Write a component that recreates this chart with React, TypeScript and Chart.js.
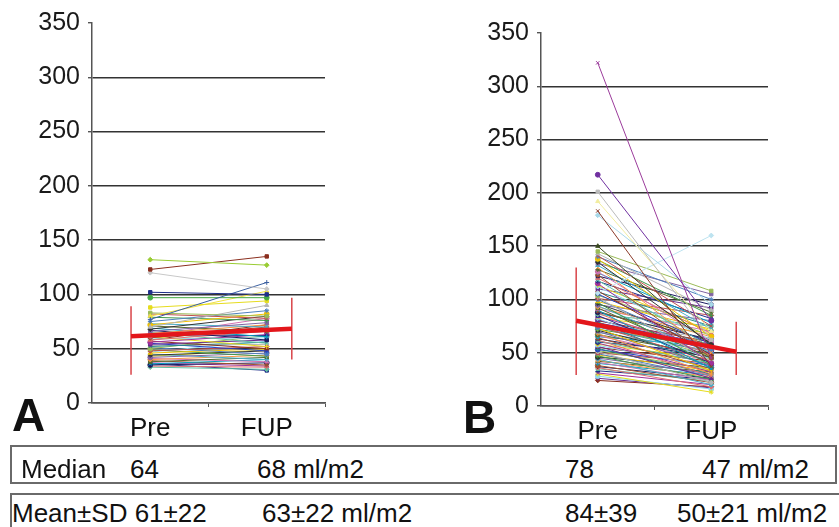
import React, { useEffect, useRef } from 'react';
import { Chart, registerables } from 'chart.js';

Chart.register(...registerables);

const categories = ['Pre', 'FUP'];
const yMax = 350;
const yStep = 50;

// Panel A: individual patients (Pre -> FUP)
const preA = [132, 123, 120, 102, 77, 97, 88, 80, 83, 70, 82, 75, 72, 79, 68, 66, 73, 64, 71, 62, 69, 60, 67, 58, 65, 63, 56, 61, 59, 54, 57, 52, 55, 50, 53, 48, 51, 46, 49, 44, 42, 45, 40, 38, 41, 36, 39, 35, 34, 33, 36, 37, 43, 47, 62, 58];
const fupA = [127, 135, 105, 100, 111, 97, 94, 103, 80, 90, 78, 85, 82, 76, 80, 74, 70, 72, 66, 78, 61, 70, 58, 66, 55, 62, 63, 52, 60, 58, 50, 56, 48, 62, 54, 52, 45, 50, 43, 48, 46, 40, 44, 42, 38, 40, 35, 37, 33, 31, 30, 34, 49, 57, 66, 72];
const specialColorsA = ['#99CC33', '#8B2F1F', '#C8C8C8', '#1F2F8A', '#3A5FA0', '#44AA44', '#E6DC1E', '#F0E040'];
const specialMarkersA = ['rectRot', 'rect', 'rectRot', 'rect', 'cross', 'circle', 'rect', 'triangle'];

// Panel B: individual patients (Pre -> FUP)
const preB = [322, 217, 201, 192, 183, 179, 150, 106, 145, 143, 141, 140, 138, 137, 135, 134, 132, 130, 128, 126, 125, 123, 122, 120, 118, 117, 115, 113, 112, 110, 108, 107, 105, 104, 102, 101, 100, 98, 97, 96, 95, 94, 93, 92, 91, 90, 89, 88, 87, 86, 85, 84, 83, 82, 81, 80, 79, 78, 77, 76, 75, 74, 73, 72, 71, 70, 69, 68, 67, 66, 65, 64, 63, 62, 61, 60, 59, 58, 57, 56, 55, 54, 53, 52, 51, 50, 49, 48, 47, 46, 45, 44, 43, 42, 41, 40, 38, 37, 36, 35, 33, 31, 30, 28, 26, 24];
const fupB = [45, 80, 62, 70, 37, 95, 56, 160, 108, 90, 75, 100, 65, 85, 58, 105, 72, 50, 88, 60, 78, 45, 95, 68, 55, 82, 40, 70, 62, 92, 48, 75, 58, 66, 42, 85, 53, 72, 38, 60, 80, 50, 65, 45, 70, 35, 57, 62, 48, 75, 40, 55, 68, 44, 52, 60, 36, 58, 47, 64, 42, 50, 33, 55, 45, 38, 52, 30, 48, 42, 56, 35, 46, 28, 40, 50, 32, 44, 36, 26, 42, 30, 38, 34, 22, 40, 28, 33, 25, 36, 30, 20, 27, 32, 24, 29, 22, 26, 18, 23, 25, 20, 13, 16, 17, 18];
const specialColorsB = ['#9B3B9B', '#7030A0', '#BBBBBB', '#F2EDA0', '#8B3A2A', '#A8D8E8', '#3A4A20', '#BDE3F0'];
const specialMarkersB = ['crossRot', 'circle', 'rect', 'triangle', 'crossRot', 'rectRot', 'triangle', 'rectRot'];

// Mean line and SD bars
const meanA = [61.5, 68.5];
const sdLowA = [26, 40];
const sdHighA = [89, 97];
const meanB = [80, 51];
const sdLowB = [29, 29];
const sdHighB = [130, 79];

const medianRow = ['Median', '64', '68 ml/m2', '78', '47 ml/m2'];
const meanRow = ['Mean±SD 61±22', '63±22 ml/m2', '84±39', '50±21 ml/m2'];

const palette = ['#1F2F8A', '#A0309A', '#E6DC1E', '#8FD8EC', '#6A2C91', '#8B2F1F', '#2A8A8A', '#2440C8', '#9BBB59', '#B5B5B5', '#C0504D', '#4F81BD', '#F2C200', '#3E9A4A', '#333333', '#8064A2', '#4BACC6', '#F79646', '#556B2F', '#D070B0', '#00A0C0', '#A0522D', '#1A1A60', '#E07070', '#60C0A0'];
const markers = ['rectRot', 'rect', 'triangle', 'crossRot', 'star', 'circle', 'cross'];

const FONT = 'Liberation Sans, Arial, Helvetica, sans-serif';

type PanelProps = {
  pre: number[]; fup: number[]; mean: number[]; lo: number[]; hi: number[];
  special: string[]; specialMarkers: string[];
  left: number; width: number; height: number;
  area: { left: number; right: number; top: number; bottom: number };
  barX: number[];
};

function Panel(p: PanelProps) {
  const ref = useRef<HTMLCanvasElement>(null);
  useEffect(() => {
    const canvas = ref.current!;
    const lines = p.pre.map((v, i) => {
      const col = i < p.special.length ? p.special[i] : palette[i % palette.length];
      const mk = i < p.specialMarkers.length ? p.specialMarkers[i] : markers[i % markers.length];
      return {
        data: [{ x: 1, y: v }, { x: 3, y: p.fup[i] }],
        borderColor: col,
        backgroundColor: col,
        borderWidth: 1,
        pointStyle: mk,
        pointRadius: 2.4,
        pointBorderWidth: 1,
        order: 3,
      };
    });
    const datasets: any[] = [
      { data: [{ x: p.barX[0], y: p.mean[0] }, { x: p.barX[1], y: p.mean[1] }], borderColor: '#E3161B', borderWidth: 4.5, pointRadius: 0, order: 0 },
      { data: [{ x: p.barX[0], y: p.lo[0] }, { x: p.barX[0], y: p.hi[0] }], borderColor: '#D94449', borderWidth: 1.5, pointRadius: 0, order: 1 },
      { data: [{ x: p.barX[1], y: p.lo[1] }, { x: p.barX[1], y: p.hi[1] }], borderColor: '#D94449', borderWidth: 1.5, pointRadius: 0, order: 1 },
      ...lines,
    ];
    const chart = new Chart(canvas, {
      type: 'line',
      data: { datasets },
      options: {
        responsive: false,
        animation: false,
        devicePixelRatio: 1,
        layout: { padding: { top: p.area.top, right: p.width - p.area.right, left: 0, bottom: 0 } },
        plugins: { legend: { display: false }, tooltip: { enabled: false } },
        scales: {
          x: {
            type: 'linear', min: 0, max: 4,
            ticks: {
              stepSize: 1, autoSkip: false, maxRotation: 0,
              callback: (v: any) => (v === 1 ? categories[0] : v === 3 ? categories[1] : ''),
              font: { family: FONT, size: 26 }, color: '#111', padding: 6,
            },
            grid: {
              drawOnChartArea: false, tickLength: 4,
              color: (c: any) => (c.tick && (c.tick.value === 2 || c.tick.value === 4) ? '#555' : 'rgba(0,0,0,0)'),
            },
            border: { color: '#555', width: 1.5 },
            afterFit: (s: any) => { s.height = p.height - p.area.bottom; },
          },
          y: {
            min: 0, max: yMax,
            ticks: { stepSize: yStep, font: { family: FONT, size: 25 }, color: '#1a1a1a', padding: 8 },
            grid: {
              color: (c: any) => (c.tick && c.tick.value === yMax ? 'rgba(0,0,0,0)' : '#333'),
              tickColor: '#555', tickLength: 4, lineWidth: 1.4,
            },
            border: { color: '#555', width: 1.5 },
            afterFit: (s: any) => { s.width = p.area.left; },
          },
        },
      } as any,
    });
    return () => chart.destroy();
  }, []);
  return (
    <canvas ref={ref} width={p.width} height={p.height}
      style={{ position: 'absolute', left: p.left, top: 0, width: p.width, height: p.height }} />
  );
}

const txt = (left: number, top: number, s: string, size = 26, bold = false) => (
  <span key={s + left + top} style={{ position: 'absolute', left, top, fontFamily: FONT, fontSize: size, lineHeight: 1, fontWeight: bold ? 700 : 400, color: '#111', whiteSpace: 'nowrap' }}>{s}</span>
);

export default function App() {
  return (
    <div style={{ position: 'absolute', left: 0, top: 0, width: 839, height: 527, overflow: 'hidden', background: '#fff' }}>
      <Panel pre={preA} fup={fupA} mean={meanA} lo={sdLowA} hi={sdHighA}
        special={specialColorsA} specialMarkers={specialMarkersA}
        left={0} width={420} height={440}
        area={{ left: 92, right: 325, top: 23, bottom: 403 }} barX={[0.67, 3.43]} />
      <Panel pre={preB} fup={fupB} mean={meanB} lo={sdLowB} hi={sdHighB}
        special={specialColorsB} specialMarkers={specialMarkersB}
        left={420} width={419} height={440}
        area={{ left: 121, right: 348, top: 33, bottom: 406 }} barX={[0.62, 3.44]} />
      {txt(12, 392, 'A', 46, true)}
      {txt(463, 394, 'B', 46, true)}
      <div style={{ position: 'absolute', left: 10, top: 445, width: 827, height: 39, boxSizing: 'border-box', border: '2px solid #6a6a6a' }} />
      <div style={{ position: 'absolute', left: 10, top: 493, width: 840, height: 50, boxSizing: 'border-box', border: '2px solid #6a6a6a' }} />
      {txt(21, 456, medianRow[0])}
      {txt(130, 456, medianRow[1])}
      {txt(257, 456, medianRow[2])}
      {txt(565, 456, medianRow[3])}
      {txt(702, 456, medianRow[4])}
      {txt(12, 500, meanRow[0])}
      {txt(262, 500, meanRow[1])}
      {txt(565, 500, meanRow[2])}
      {txt(677, 500, meanRow[3])}
    </div>
  );
}
